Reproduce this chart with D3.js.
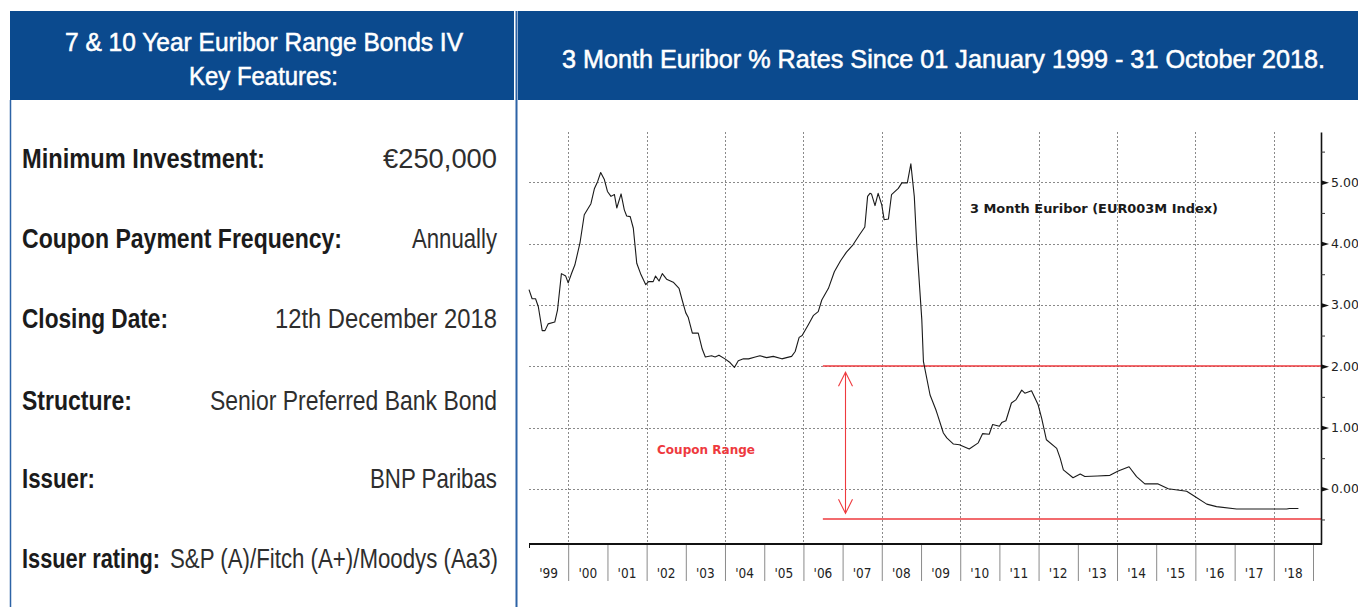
<!DOCTYPE html>
<html><head><meta charset="utf-8">
<script src="https://cdn.jsdelivr.net/npm/d3@7/dist/d3.min.js"></script>
<style>html,body{margin:0;padding:0;background:#fff;overflow:hidden}svg{display:block}</style>
</head><body>
<svg id="c" width="1358" height="607"></svg>
<script>
// ---------------- DATA ----------------
const leftTitle = ["7 & 10 Year Euribor Range Bonds IV", "Key Features:"];
const rightTitle = "3 Month Euribor % Rates Since 01 January 1999 - 31 October 2018.";
const featureLabels = ["Minimum Investment:", "Coupon Payment Frequency:", "Closing Date:", "Structure:", "Issuer:", "Issuer rating:"];
const featureValues = ["€250,000", "Annually", "12th December 2018", "Senior Preferred Bank Bond", "BNP Paribas", "S&P (A)/Fitch (A+)/Moodys (Aa3)"];
const seriesName = "3 Month Euribor (EUR003M Index)";
const rangeLabel = "Coupon Range";
const dates = [
"1999-01-01","1999-01-30","1999-03-03","1999-03-29","1999-05-04","1999-05-30","1999-06-28","1999-08-29","1999-09-24","1999-10-30","1999-12-09",
"2000-01-01","2000-02-03","2000-03-03","2000-04-20","2000-05-30","2000-07-31","2000-09-02","2000-10-01","2000-10-30","2000-12-02",
"2001-01-01","2001-02-03","2001-03-07","2001-03-29","2001-05-08","2001-06-07","2001-06-29","2001-08-01","2001-08-30","2001-10-01","2001-11-10","2001-12-24",
"2002-01-19","2002-03-03","2002-03-25","2002-04-27","2002-05-27","2002-07-06","2002-09-06","2002-10-30","2002-11-28",
"2003-01-01","2003-01-23","2003-03-03","2003-04-27","2003-06-03","2003-07-02","2003-08-29","2003-10-01","2003-11-06",
"2004-01-01","2004-02-17","2004-03-29","2004-05-04","2004-06-21","2004-08-08","2004-10-09","2004-11-22",
"2005-01-23","2005-03-26","2005-06-14","2005-07-28","2005-09-13","2005-10-16","2005-11-22","2005-12-20",
"2006-02-17","2006-04-05","2006-05-19","2006-06-21","2006-08-22","2006-10-16","2006-12-13",
"2007-02-06","2007-04-08","2007-06-06","2007-07-27","2007-08-22","2007-09-13","2007-09-27","2007-10-30","2007-11-28",
"2008-01-01","2008-01-23","2008-03-03","2008-04-01","2008-06-03","2008-07-06","2008-08-26","2008-09-28","2008-10-30","2008-11-21",
"2009-01-08","2009-01-23","2009-03-26","2009-05-19","2009-06-03","2009-07-28","2009-08-29","2009-10-30","2009-12-24",
"2010-03-26","2010-06-18","2010-07-28","2010-09-28","2010-10-30",
"2011-01-01","2011-01-23","2011-03-03","2011-04-23","2011-06-03","2011-07-28","2011-08-26","2011-10-27","2011-12-28",
"2012-01-30","2012-03-14","2012-06-18","2012-07-20","2012-08-19","2012-11-17",
"2013-01-23","2013-03-07","2013-07-02","2013-10-27",
"2014-01-12","2014-04-23","2014-07-02","2014-09-17",
"2015-01-19","2015-04-23","2015-10-12","2015-12-13",
"2016-04-16","2016-07-16",
"2017-01-19","2018-05-01","2018-05-26","2018-08-18"
];
const rates = [
3.25,3.10,3.10,2.97,2.58,2.58,2.69,2.72,2.92,3.51,3.47,
3.36,3.52,3.65,4.01,4.47,4.65,4.90,5.01,5.16,5.05,
4.85,4.77,4.80,4.58,4.81,4.55,4.45,4.44,4.25,3.68,3.49,3.33,
3.38,3.38,3.47,3.39,3.51,3.42,3.37,3.27,3.08,
2.87,2.80,2.54,2.54,2.28,2.15,2.17,2.15,2.18,
2.12,2.06,1.98,2.09,2.12,2.12,2.15,2.17,
2.14,2.16,2.12,2.14,2.16,2.24,2.47,2.50,
2.68,2.83,2.89,3.08,3.27,3.54,3.72,
3.86,3.98,4.14,4.27,4.77,4.82,4.81,4.62,4.82,
4.63,4.39,4.40,4.80,4.90,4.99,4.99,5.30,4.77,4.01,
2.76,2.08,1.53,1.29,1.21,0.91,0.83,0.73,0.72,
0.65,0.75,0.90,0.89,1.05,
1.02,1.08,1.11,1.40,1.45,1.61,1.56,1.60,1.37,
1.15,0.80,0.66,0.50,0.31,0.18,
0.24,0.20,0.21,0.22,
0.29,0.36,0.20,0.08,
0.08,0.00,-0.04,-0.11,
-0.25,-0.29,
-0.33,-0.33,-0.32,-0.32
];
const years = d3.range(1999, 2019);
const yearLabels = ["'99","'00","'01","'02","'03","'04","'05","'06","'07","'08","'09","'10","'11","'12","'13","'14","'15","'16","'17","'18"];
const yTicks = [0, 1, 2, 3, 4, 5];
const yTickLabels = ["0.000","1.000","2.000","3.000","4.000","5.000"];
const couponRange = [-0.5, 2.0];

// ---------------- LAYOUT / STYLE ----------------
const BLUE = "#0b4a8e";
const RED = "#ee3a3e";
const HEAD_FONT = "'Liberation Sans Narrow','Liberation Sans',Arial,sans-serif";
const CH_FONT = "'DejaVu Sans',Verdana,sans-serif";
const AX_FONT = "'DejaVu Sans Condensed','DejaVu Sans',sans-serif";
const plot = {left: 529, right: 1321, top: 132, bottom: 544, xEnd: 1313};
const labelW = [243, 320, 146, 110, 73, 138];
const valueW = [114, 85, 222, 287, 127, 328];
const rowBase = [168, 248, 328, 410, 488, 568];

const svg = d3.select("#c");
const parse = d3.timeParse("%Y-%m-%d");
const series = dates.map((d, i) => ({date: parse(d), v: rates[i]}));

function fit(sel, w) { return sel.attr("textLength", w).attr("lengthAdjust", "spacingAndGlyphs"); }

// headers
svg.append("rect").attr("x", 10).attr("y", 11).attr("width", 504).attr("height", 89).attr("fill", BLUE);
svg.append("rect").attr("x", 518).attr("y", 11).attr("width", 840).attr("height", 89).attr("fill", BLUE);
svg.append("line").attr("x1", 10.5).attr("x2", 10.5).attr("y1", 100).attr("y2", 607).attr("stroke", "#2d63a6").attr("stroke-width", 1.5);
svg.append("line").attr("x1", 516.5).attr("x2", 516.5).attr("y1", 11).attr("y2", 607).attr("stroke", "#2d63a6").attr("stroke-width", 2);

const ht = svg.append("g").attr("font-family", HEAD_FONT).attr("fill", "#fff").attr("font-size", 25.5)
  .attr("stroke", "#fff").attr("stroke-width", 0.55);
fit(ht.append("text").attr("x", 65).attr("y", 51).text(leftTitle[0]), 398);
fit(ht.append("text").attr("x", 189).attr("y", 85).text(leftTitle[1]), 149);
fit(ht.append("text").attr("x", 562).attr("y", 68).text(rightTitle), 763);

// features
const ft = svg.append("g").attr("font-family", HEAD_FONT).attr("font-size", 27.5);
featureLabels.forEach((lab, i) => {
  fit(ft.append("text").attr("x", 22).attr("y", rowBase[i]).attr("font-weight", "bold").attr("fill", "#1b1b1b").text(lab), labelW[i]);
  const right = i === 5 ? 498 : 497;
  fit(ft.append("text").attr("x", right - valueW[i]).attr("y", rowBase[i]).attr("fill", "#2e2e2e").text(featureValues[i]), valueW[i]);
});

// scales
const x = d3.scaleTime().domain([new Date(1999, 0, 1), new Date(2019, 0, 1)]).range([plot.left, plot.xEnd]);
const y = d3.scaleLinear().domain([-0.9, 5.82]).range([plot.bottom, plot.top]);
const cr = v => Math.round(v) + 0.5;

// grid
const grid = svg.append("g").attr("stroke", "#8a8a8a").attr("stroke-width", 1).attr("stroke-dasharray", "2,2");
grid.selectAll("line.h").data(yTicks).join("line").attr("class", "h")
  .attr("x1", plot.left).attr("x2", plot.right).attr("y1", d => cr(y(d))).attr("y2", d => cr(y(d)));
grid.selectAll("line.v").data(d3.range(2000, 2019, 2))
  .join("line").attr("class", "v")
  .attr("x1", d => cr(x(new Date(d, 0, 1)))).attr("x2", d => cr(x(new Date(d, 0, 1))))
  .attr("y1", plot.top).attr("y2", plot.bottom);

// coupon range lines
const couponStart = new Date(2006, 6, 1);
svg.selectAll("line.cr").data(couponRange).join("line").attr("class", "cr")
  .attr("x1", x(couponStart)).attr("x2", plot.right)
  .attr("y1", d => Math.round(y(d))).attr("y2", d => Math.round(y(d)))
  .attr("stroke", RED).attr("stroke-width", 1.6);

// arrow
const ax = cr(x(new Date(2007, 0, 22)));
const aTop = y(couponRange[1] - 0.1), aBot = y(couponRange[0] + 0.1);
const arrow = svg.append("g").attr("stroke", RED).attr("stroke-width", 1.1).attr("fill", "none");
arrow.append("line").attr("x1", ax).attr("x2", ax).attr("y1", aTop).attr("y2", aBot);
arrow.append("path").attr("d", `M${ax-7},${aTop+14}L${ax},${aTop}L${ax+7},${aTop+14}`);
arrow.append("path").attr("d", `M${ax-7},${aBot-14}L${ax},${aBot}L${ax+7},${aBot-14}`);

// series line
svg.append("path").datum(series)
  .attr("d", d3.line().x(d => x(d.date)).y(d => y(d.v)))
  .attr("fill", "none").attr("stroke", "#1a1a1a").attr("stroke-width", 1.1).attr("stroke-linejoin", "round");

// annotations
fit(svg.append("text").attr("x", 970).attr("y", 213).attr("font-family", CH_FONT).attr("font-weight", "bold")
  .attr("font-size", 12.5).attr("fill", "#1a1a1a").text(seriesName), 248);
fit(svg.append("text").attr("x", 657).attr("y", 454).attr("font-family", CH_FONT).attr("font-weight", "bold")
  .attr("font-size", 12.5).attr("fill", RED).text(rangeLabel), 98);

// right axis
const ra = svg.append("g").attr("transform", `translate(${plot.right},0)`);
ra.call(d3.axisRight(y).tickValues(d3.range(-0.5, 5.6, 1)).tickSize(4).tickSizeOuter(0).tickFormat(""));
ra.select(".domain").attr("stroke", "#111").attr("stroke-width", 1.6);
ra.selectAll(".tick line").attr("stroke", "#333");
const rl = svg.append("g").attr("transform", `translate(${plot.right},0)`)
  .call(d3.axisRight(y).tickValues(yTicks).tickSize(0).tickPadding(10).tickFormat((d, i) => yTickLabels[i]));
rl.select(".domain").remove();
rl.selectAll("text").attr("font-family", CH_FONT).attr("font-size", 12.5).attr("fill", "#222");
rl.selectAll(".tick").append("path").attr("d", "M0,-2.5L8,0L0,2.5Z").attr("fill", "#111");

// bottom axis
const ba = svg.append("g").attr("transform", `translate(0,${plot.bottom})`)
  .call(d3.axisBottom(x).tickValues(d3.range(2000, 2020).map(yr => new Date(yr, 0, 1))).tickSize(37).tickSizeOuter(0).tickFormat(""));
ba.select(".domain").remove();
ba.selectAll(".tick line").attr("stroke", "#8a8a8a");
svg.append("line").attr("x1", plot.left).attr("x2", plot.right + 1).attr("y1", plot.bottom).attr("y2", plot.bottom)
  .attr("stroke", "#111").attr("stroke-width", 2.2);
svg.append("line").attr("x1", plot.left + 0.5).attr("x2", plot.left + 0.5).attr("y1", plot.bottom).attr("y2", plot.bottom + 4)
  .attr("stroke", "#111");
svg.append("g").selectAll("text").data(years).join("text")
  .attr("x", d => x(new Date(d, 6, 2))).attr("y", 578).attr("text-anchor", "middle")
  .attr("font-family", AX_FONT).attr("font-size", 13.5).attr("fill", "#222")
  .text((d, i) => yearLabels[i]);
</script>
</body></html>
